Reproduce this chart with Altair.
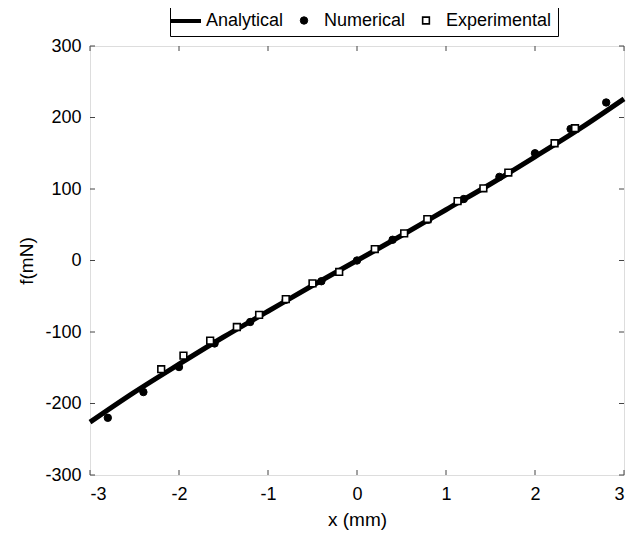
import altair as alt
import pandas as pd

# Analytical curve
ana_x = [-3, -2.5, -2, -1.5, -1, -0.5, 0, 0.5, 1, 1.5, 2, 2.5, 3]
ana_f = [-226, -184, -145, -107, -71, -35, 0, 35, 71, 107, 145, 184, 226]

# Numerical points
num_x = [-2.8, -2.4, -2.0, -1.6, -1.2, -0.8, -0.4, 0.0, 0.4, 0.8, 1.2, 1.6, 2.0, 2.4, 2.8]
num_f = [-220, -184, -149, -116, -86, -55, -29, 0, 29, 57, 86, 117, 150, 184, 221]

# Experimental points
exp_x = [-2.2, -1.95, -1.65, -1.35, -1.1, -0.8, -0.5, -0.2, 0.2, 0.53, 0.79, 1.13, 1.42, 1.7, 2.22, 2.45]
exp_f = [-152, -133, -112, -93, -76, -54, -32, -16, 16, 38, 58, 83, 101, 123, 164, 185]

x_ticks = [-3, -2, -1, 0, 1, 2, 3]
y_ticks = [-300, -200, -100, 0, 100, 200, 300]
series = ["Analytical", "Numerical", "Experimental"]

W, H = 534, 429
FONT = "Liberation Sans"
AX = "#444444"
LINE_SYMBOL = "M-1.5,-0.2H1.5V0.2H-1.5Z"

xs = alt.Scale(domain=[-3, 3], nice=False, zero=False)
ys = alt.Scale(domain=[-300, 300], nice=False, zero=False)

ana = pd.DataFrame({"x": ana_x, "f": ana_f})
pts = pd.concat([
    pd.DataFrame({"x": num_x, "f": num_f, "s": "Numerical"}),
    pd.DataFrame({"x": exp_x, "f": exp_f, "s": "Experimental"}),
])

common = dict(ticks=False, tickSize=0, domain=False, grid=False, labelFontSize=18,
              titleFontSize=19, labelColor="black", titleColor="black",
              titleFontWeight="normal", labelFont=FONT, titleFont=FONT,
              labelExpr="datum.value + ''")
xaxis = alt.Axis(values=x_ticks, title="x (mm)", labelPadding=10, titlePadding=7, **common)
yaxis = alt.Axis(values=y_ticks, title="f(mN)", labelPadding=9, titlePadding=8, **common)

line = alt.Chart(ana).mark_line(interpolate="monotone", color="black", strokeWidth=5).encode(
    x=alt.X("x:Q", scale=xs, axis=xaxis),
    y=alt.Y("f:Q", scale=ys, axis=yaxis),
)

leg = alt.Legend(title=None, orient="none", legendX=80, legendY=-41, direction="horizontal",
                 columns=3, strokeColor="black", padding=6, labelFontSize=18, labelFont=FONT,
                 labelColor="black", columnPadding=10, labelOffset=10, fillColor="white",
                 symbolStrokeColor="black", symbolStrokeWidth=1.5)

points = alt.Chart(pts).mark_point(filled=True, opacity=1).encode(
    x=alt.X("x:Q", scale=xs, axis=xaxis),
    y=alt.Y("f:Q", scale=ys, axis=yaxis),
    shape=alt.Shape("s:N", scale=alt.Scale(domain=series, range=[LINE_SYMBOL, "circle", "square"]), legend=leg),
    fill=alt.Fill("s:N", scale=alt.Scale(domain=series, range=["black", "black", "white"]), legend=leg),
    stroke=alt.Stroke("s:N", scale=alt.Scale(domain=series, range=["black", "black", "black"]), legend=leg),
    strokeWidth=alt.StrokeWidth("s:N", scale=alt.Scale(type="ordinal", domain=series, range=[0, 1, 1.6]), legend=leg),
    size=alt.Size("s:N", scale=alt.Scale(type="ordinal", domain=series, range=[400, 55, 45]), legend=leg),
)

xt = pd.DataFrame({"t": x_ticks})
yt = pd.DataFrame({"t": y_ticks})

def xtick(y0, y1):
    return alt.Chart(xt).mark_rule(color=AX, strokeWidth=1).encode(
        x=alt.X("t:Q", scale=xs, axis=xaxis), y=alt.value(y0), y2=alt.value(y1))

def ytick(x0, x1):
    return alt.Chart(yt).mark_rule(color=AX, strokeWidth=1).encode(
        y=alt.Y("t:Q", scale=ys, axis=yaxis), x=alt.value(x0), x2=alt.value(x1))

chart = alt.layer(
    line, points,
    xtick(H, H - 5), xtick(0, 5), ytick(0, 5), ytick(W, W - 5),
).properties(
    width=W, height=H, autosize="none",
    padding={"left": 82, "top": 38, "right": 4, "bottom": 56},
).configure_view(stroke=AX, strokeWidth=1.2).configure(background="white")

chart.save("out.html", embed_options={"renderer": "svg", "actions": False})
